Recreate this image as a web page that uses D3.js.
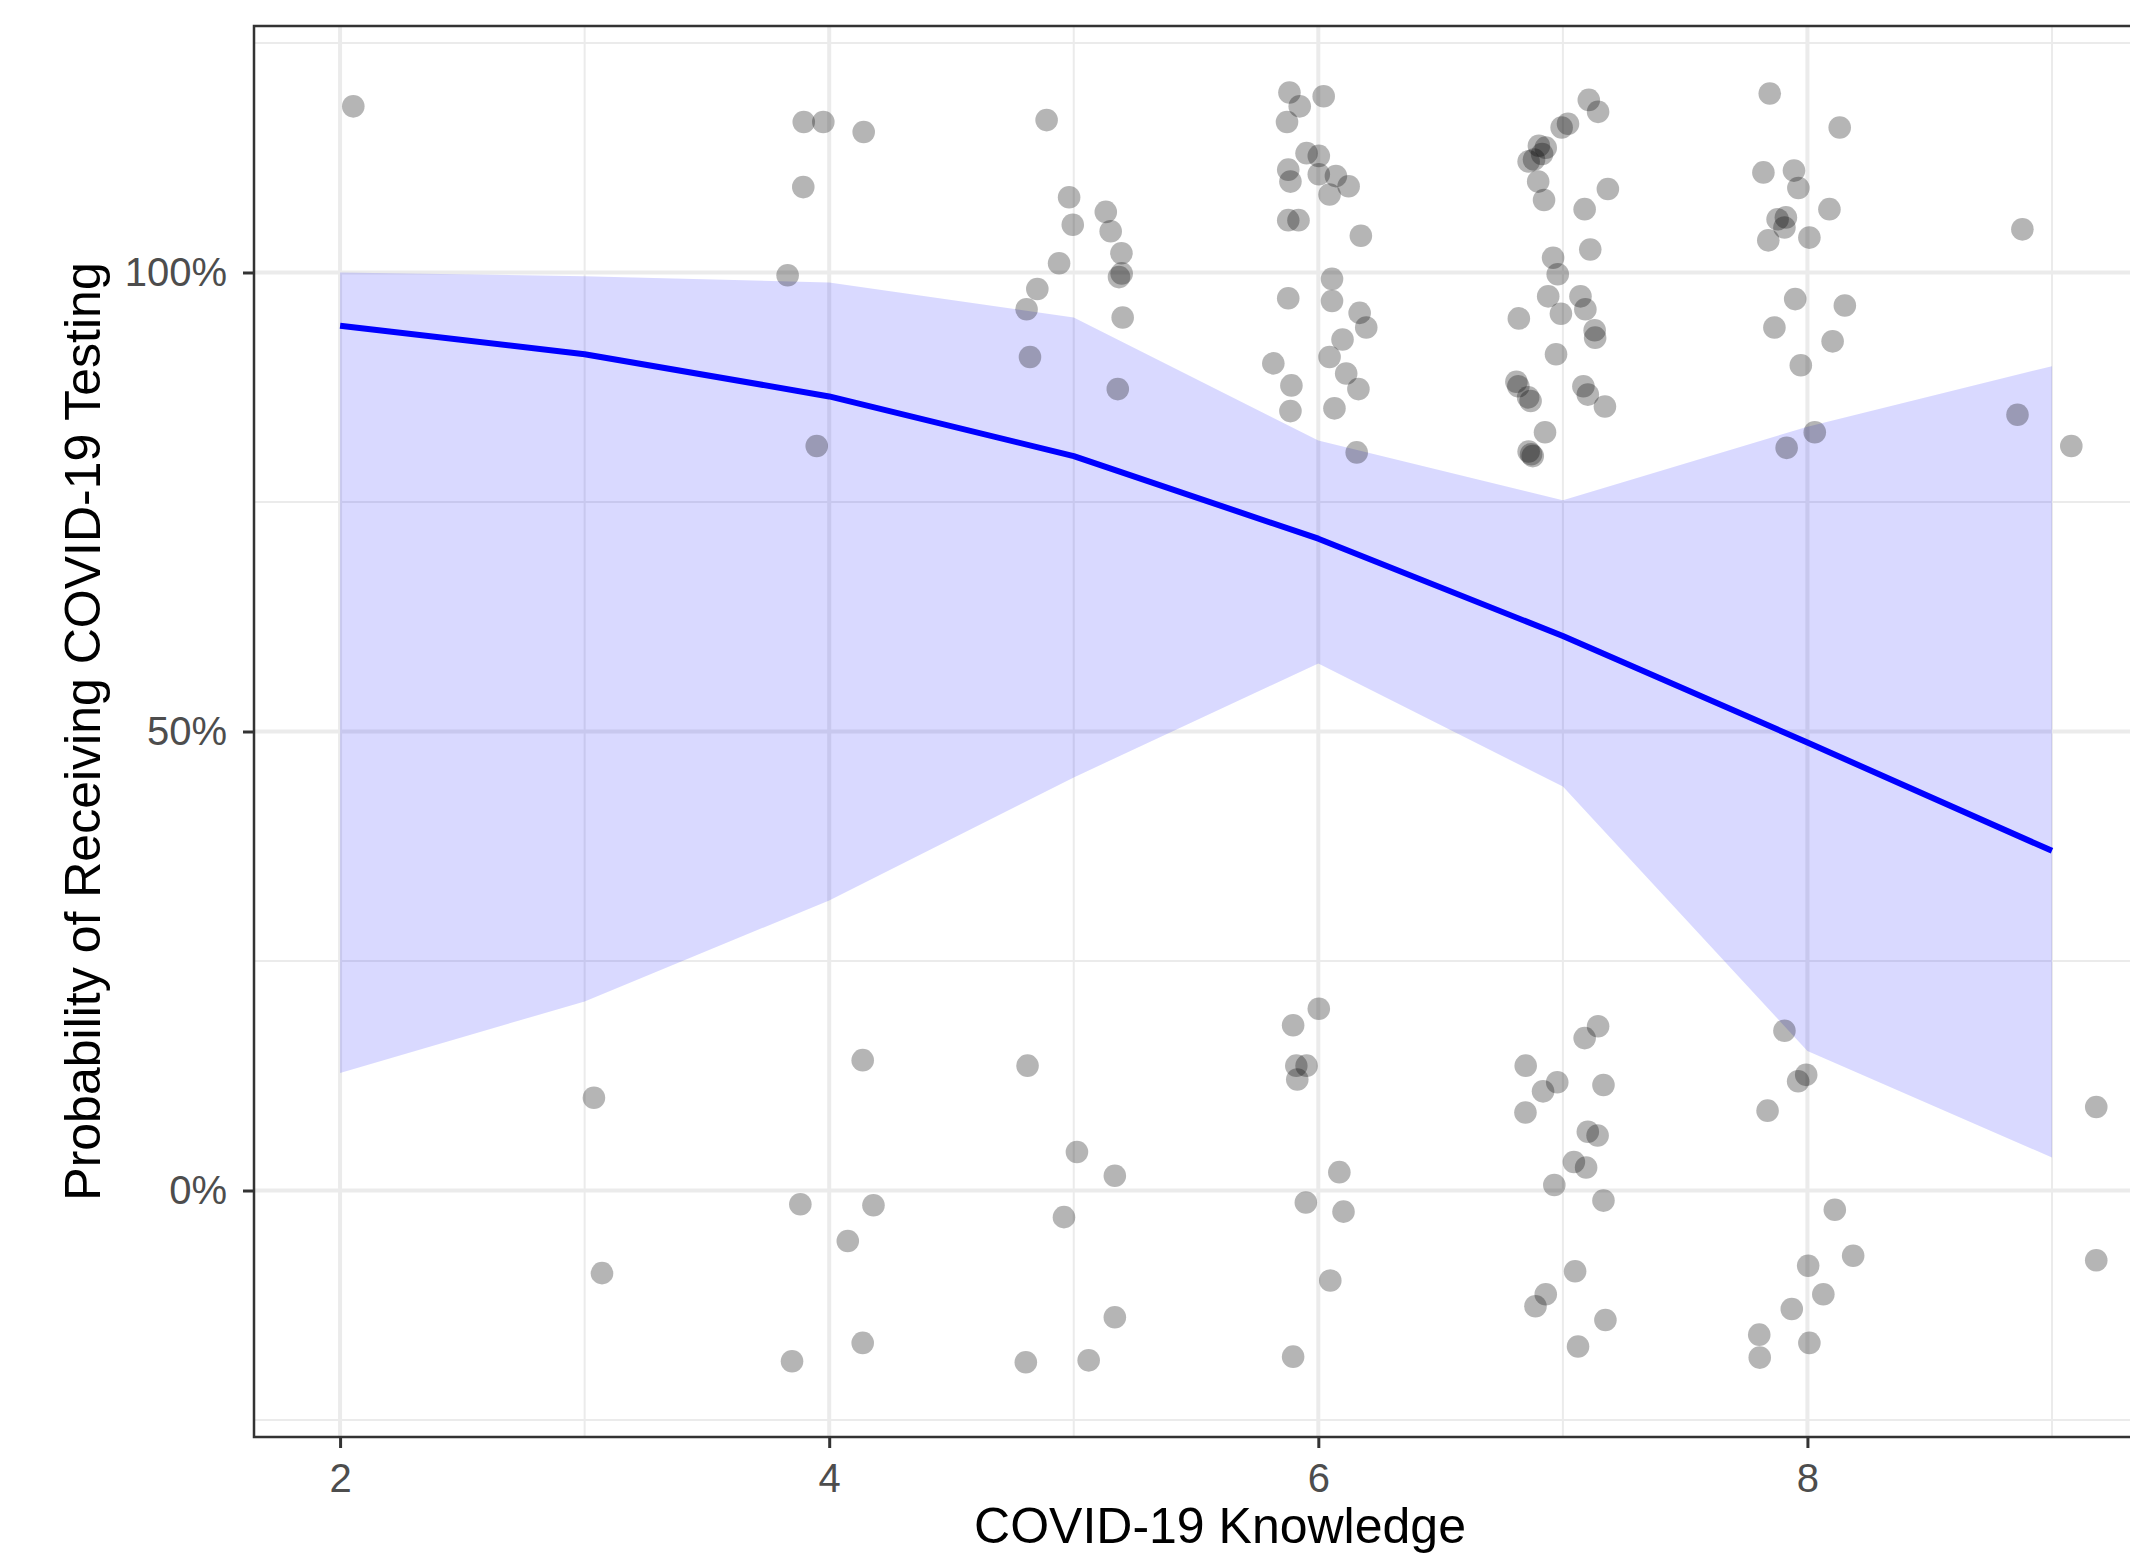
<!DOCTYPE html>
<html>
<head>
<meta charset="utf-8">
<script src="https://cdn.jsdelivr.net/npm/d3@7"></script>
<style>
  body { margin: 0; background: #fff; overflow: hidden; }
  svg { display: block; font-family: "Liberation Sans", Arial, Helvetica, sans-serif; }
</style>
</head>
<body>
<div id="chart"></div>
<script>
const width = 2130;
const height = 1556;
const margin = { left: 254, top: 26 };
const plotW = 1932;   // panel runs past the right edge of the picture
const plotH = 1411;

// fitted probability with its confidence band
const knowledge = [2, 3, 4, 5, 6, 7, 8, 9];
const predicted = [0.942, 0.911, 0.865, 0.800, 0.710, 0.604, 0.488, 0.370];
const lowerCI   = [0.128, 0.206, 0.316, 0.450, 0.574, 0.440, 0.152, 0.036];
const upperCI   = [1.000, 0.996, 0.989, 0.951, 0.817, 0.752, 0.832, 0.898];

// jittered observations [knowledge, tested]
const observed = [
  [2.054, 1.181],
  [3.038, 0.101], [3.071, -0.090],
  [3.896, 1.164], [3.976, 1.164], [4.141, 1.153], [3.894, 1.093], [3.830, 0.997], [3.949, 0.811],
  [4.137, 0.142], [3.882, -0.015], [4.181, -0.016], [4.076, -0.055], [4.137, -0.166], [3.848, -0.186],
  [4.889, 1.166], [4.981, 1.082], [4.996, 1.052], [5.131, 1.066], [5.151, 1.045], [5.195, 1.021],
  [5.185, 0.995], [5.196, 0.999], [4.940, 1.010], [4.851, 0.982], [4.807, 0.960], [4.821, 0.908],
  [5.200, 0.951], [5.180, 0.873],
  [4.811, 0.136], [5.013, 0.042], [5.168, 0.016], [4.960, -0.029], [5.168, -0.138], [4.804, -0.187],
  [5.061, -0.185],
  [5.882, 1.196], [5.924, 1.181], [6.022, 1.192], [5.872, 1.164], [5.952, 1.130], [6.002, 1.127],
  [5.877, 1.112], [5.886, 1.099], [6.002, 1.107], [6.072, 1.105], [6.124, 1.094], [6.046, 1.085],
  [5.877, 1.057], [5.919, 1.057], [6.174, 1.040], [6.056, 0.993], [5.877, 0.972], [6.056, 0.969],
  [6.169, 0.956], [6.196, 0.940], [6.099, 0.927], [6.046, 0.908], [5.816, 0.901], [6.114, 0.890],
  [5.890, 0.877], [6.164, 0.873], [5.886, 0.849], [6.066, 0.852], [6.157, 0.804],
  [5.897, 0.180], [6.002, 0.198], [5.910, 0.136], [5.952, 0.136], [5.914, 0.121], [6.086, 0.020],
  [5.949, -0.013], [6.103, -0.023], [6.049, -0.098], [5.897, -0.181],
  [7.106, 1.188], [7.144, 1.175], [6.995, 1.158], [7.021, 1.162], [6.902, 1.138], [6.930, 1.136],
  [6.915, 1.129], [6.860, 1.121], [6.882, 1.123], [6.899, 1.099], [6.923, 1.079], [7.184, 1.091],
  [7.089, 1.069], [7.112, 1.025], [6.960, 1.016], [6.979, 0.998], [6.940, 0.974], [7.072, 0.974],
  [7.092, 0.960], [6.992, 0.955], [6.820, 0.950], [7.130, 0.937], [7.132, 0.929], [6.972, 0.911],
  [6.810, 0.881], [6.818, 0.876], [6.858, 0.864], [6.868, 0.860], [7.084, 0.876], [7.102, 0.867],
  [7.172, 0.854], [6.927, 0.826], [6.860, 0.805], [6.877, 0.800], [6.870, 0.802],
  [7.144, 0.179], [7.089, 0.166], [6.848, 0.136], [6.977, 0.118], [6.919, 0.108], [7.166, 0.115],
  [6.847, 0.085], [7.102, 0.064], [7.142, 0.060], [7.045, 0.031], [7.095, 0.025], [6.965, 0.006],
  [7.166, -0.011], [7.050, -0.088], [6.930, -0.113], [6.888, -0.126], [7.174, -0.141], [7.062, -0.170],
  [7.846, 1.195], [8.132, 1.158], [7.820, 1.109], [7.945, 1.111], [7.963, 1.092], [8.090, 1.069],
  [7.878, 1.058], [7.912, 1.060], [7.906, 1.049], [7.840, 1.035], [8.008, 1.038], [7.950, 0.971],
  [8.153, 0.964], [7.865, 0.940], [8.103, 0.925], [7.973, 0.899], [7.915, 0.809], [8.030, 0.826],
  [7.906, 0.174], [7.995, 0.126], [7.962, 0.119], [7.837, 0.087], [8.112, -0.021], [8.187, -0.071],
  [8.003, -0.082], [8.065, -0.113], [7.936, -0.129], [7.803, -0.157], [8.008, -0.166], [7.805, -0.182],
  [8.879, 1.047], [8.859, 0.845], [9.079, 0.811], [9.181, 0.091], [9.181, -0.076]
];

const xTicks = [2, 4, 6, 8];
const xMinor = [3, 5, 7, 9];
const yTicks = [0, 0.5, 1];
const yMinor = [-0.25, 0.25, 0.75, 1.25];

const svg = d3.select('#chart')
  .append('svg')
    .attr('width', width)
    .attr('height', height);

const g = svg.append('g')
    .attr('transform', `translate(${margin.left},${margin.top})`);

const x = d3.scaleLinear().domain([1.648, 9.548]).range([0, plotW]);
const y = d3.scaleLinear().domain([-0.2685, 1.2685]).range([plotH, 0]);

g.append('rect')
  .attr('width', plotW).attr('height', plotH)
  .style('fill', '#fff');

// grid
g.selectAll('.vminor').data(xMinor).enter().append('line')
  .attr('x1', d => x(d)).attr('x2', d => x(d))
  .attr('y1', 0).attr('y2', plotH)
  .style('stroke', '#ebebeb').style('stroke-width', 2);
g.selectAll('.hminor').data(yMinor).enter().append('line')
  .attr('y1', d => y(d)).attr('y2', d => y(d))
  .attr('x1', 0).attr('x2', plotW)
  .style('stroke', '#ebebeb').style('stroke-width', 2);
g.selectAll('.vmajor').data(xTicks).enter().append('line')
  .attr('x1', d => x(d)).attr('x2', d => x(d))
  .attr('y1', 0).attr('y2', plotH)
  .style('stroke', '#ebebeb').style('stroke-width', 4);
g.selectAll('.hmajor').data(yTicks).enter().append('line')
  .attr('y1', d => y(d)).attr('y2', d => y(d))
  .attr('x1', 0).attr('x2', plotW)
  .style('stroke', '#ebebeb').style('stroke-width', 4);

// confidence band
const band = knowledge.map((k, i) => ({ k, lo: lowerCI[i], hi: upperCI[i] }));
g.append('path')
  .datum(band)
  .attr('d', d3.area().x(d => x(d.k)).y0(d => y(d.lo)).y1(d => y(d.hi)))
  .style('fill', 'blue')
  .style('fill-opacity', 0.15);

// observations
g.selectAll('.obs').data(observed).enter().append('circle')
  .attr('cx', d => x(d[0]))
  .attr('cy', d => y(d[1]))
  .attr('r', 11.3)
  .style('fill', '#000')
  .style('fill-opacity', 0.29);

// fitted line
g.append('path')
  .datum(knowledge.map((k, i) => [k, predicted[i]]))
  .attr('d', d3.line().x(d => x(d[0])).y(d => y(d[1])))
  .style('fill', 'none')
  .style('stroke', 'blue')
  .style('stroke-width', 6)
  .style('stroke-linejoin', 'round');

// panel border
g.append('rect')
  .attr('width', plotW).attr('height', plotH)
  .style('fill', 'none')
  .style('stroke', '#333')
  .style('stroke-width', 2.5);

// axes
const yAxis = g.append('g')
  .call(d3.axisLeft(y).tickValues(yTicks).tickFormat(d3.format('.0%')).tickSize(11).tickPadding(16));
const xAxis = g.append('g')
  .attr('transform', `translate(0,${plotH})`)
  .call(d3.axisBottom(x).tickValues(xTicks).tickSize(11).tickPadding(16));

[xAxis, yAxis].forEach(a => {
  a.select('.domain').remove();
  a.selectAll('.tick line').style('stroke', '#333').style('stroke-width', 3);
  a.selectAll('.tick text')
    .style('fill', '#4d4d4d')
    .style('font-size', '40px')
    .style('font-family', '"Liberation Sans", Arial, Helvetica, sans-serif');
});

svg.append('text')
  .attr('x', margin.left + plotW / 2)
  .attr('y', 1543)
  .attr('text-anchor', 'middle')
  .style('font-size', '50px')
  .style('fill', '#000')
  .text('COVID-19 Knowledge');

svg.append('text')
  .attr('transform', `translate(100,${margin.top + plotH / 2}) rotate(-90)`)
  .attr('text-anchor', 'middle')
  .style('font-size', '50px')
  .style('fill', '#000')
  .text('Probability of Receiving COVID-19 Testing');
</script>
</body>
</html>
